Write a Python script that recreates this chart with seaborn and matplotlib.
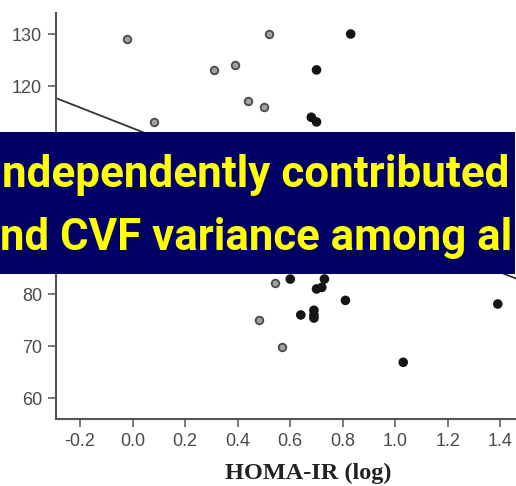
import matplotlib
matplotlib.use("Agg")
import matplotlib.pyplot as plt
from matplotlib.patches import Rectangle
import numpy as np
import pandas as pd
import seaborn as sns

# HOMA-IR (log) vs outcome, two groups
open_x = [-0.02, 0.08, 0.31, 0.39, 0.44, 0.50, 0.52, 0.54, 0.48, 0.57]
open_y = [129.0, 113.1, 123.1, 124.0, 117.1, 116.0, 130.0, 82.1, 75.0, 69.8]

filled_x = [0.83, 0.70, 0.68, 0.70, 0.60, 0.73, 0.70, 0.72, 0.81,
            0.64, 0.69, 0.69, 0.69, 1.03, 1.39]
filled_y = [130.0, 123.1, 114.0, 113.1, 82.9, 82.9, 81.0, 81.3, 78.8,
            76.0, 76.9, 76.0, 75.4, 66.9, 78.1]

# fitted regression line
fit_intercept = 111.9
fit_slope = -19.8

x_ticks = [-0.2, 0.0, 0.2, 0.4, 0.6, 0.8, 1.0, 1.2, 1.4, 1.6]
y_ticks = [60, 70, 80, 90, 100, 110, 120, 130]
x_label = "HOMA-IR (log)"
banner_lines = ["ndependently contributed", "nd CVF variance among al"]

sns.set_style("white")
plt.rcParams["font.family"] = ["Liberation Sans", "DejaVu Sans"]
plt.rcParams["axes.unicode_minus"] = False

W, H = 516, 486
fig = plt.figure(figsize=(W / 100, H / 100), dpi=100)
ax = fig.add_axes([56 / W, (H - 419) / H, (560 - 56) / W, (419 - 13) / H])

xlim = (-0.292, 1.627)
ylim = (56.0, 134.04)

df_open = pd.DataFrame({"x": open_x, "y": open_y})
df_filled = pd.DataFrame({"x": filled_x, "y": filled_y})

sns.scatterplot(data=df_open, x="x", y="y", ax=ax, s=30, marker="o",
                facecolor="#a0a0a0", edgecolor="#4a4a4a", linewidth=1.3,
                zorder=3)
sns.scatterplot(data=df_filled, x="x", y="y", ax=ax, s=48, marker="o",
                color="#151515", edgecolor="none", zorder=3)

line_x = np.array(xlim)
df_line = pd.DataFrame({"x": line_x, "y": fit_intercept + fit_slope * line_x})
sns.lineplot(data=df_line, x="x", y="y", ax=ax, color="#333333",
             linewidth=1.3, zorder=2)

ax.set_xlim(*xlim)
ax.set_ylim(*ylim)
ax.set_xticks(x_ticks)
ax.set_xticklabels([f"{v:.1f}" for v in x_ticks])
ax.set_yticks(y_ticks)
ax.set_yticklabels([str(v) for v in y_ticks])
ax.tick_params(axis="both", direction="out", length=6, width=1.1,
               color="#555555", labelcolor="#4a4a4a", labelsize=13,
               bottom=True, left=True, pad=4)
for side in ("top", "right"):
    ax.spines[side].set_visible(False)
for side in ("left", "bottom"):
    ax.spines[side].set_color("#555555")
    ax.spines[side].set_linewidth(1.5)

ax.set_ylabel("")
ax.set_xlabel(x_label, family=["Liberation Serif", "DejaVu Serif"],
              fontweight="bold", fontsize=17.5, color="#222222", labelpad=9)

# overlay banner
fig.add_artist(Rectangle((0, (H - 274) / H), 515 / W, (274 - 132) / H,
                         transform=fig.transFigure, facecolor="#000066",
                         edgecolor="none", zorder=10))

fig.canvas.draw()
renderer = fig.canvas.get_renderer()
targets = [(2, 187, 508), (0, 250, 513)]
for text, (x0, base, width) in zip(banner_lines, targets):
    t = fig.text(x0 / W, (H - base) / H, text, color="#ffff00",
                 family=["Roboto", "DejaVu Sans"], fontweight="bold",
                 fontsize=32, ha="left", va="baseline", zorder=11)
    bb = t.get_window_extent(renderer)
    t.set_fontsize(32 * width / bb.width)

fig.savefig("out.png", dpi=100)
